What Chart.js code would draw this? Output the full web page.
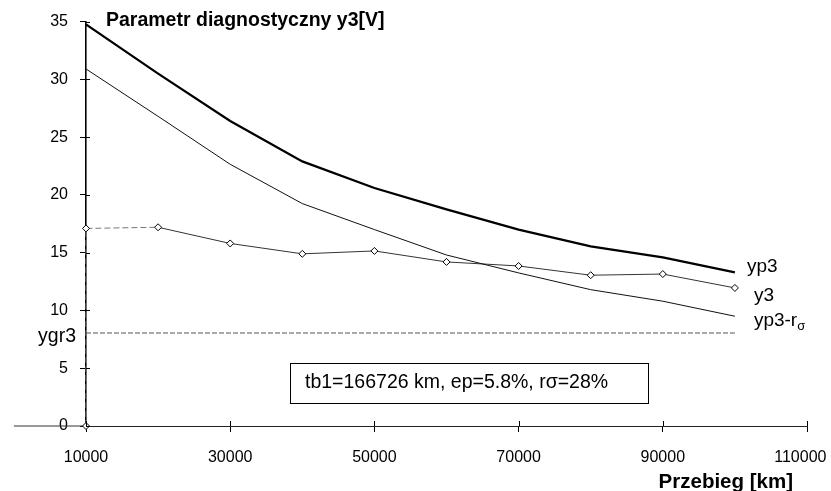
<!DOCTYPE html>
<html>
<head>
<meta charset="utf-8">
<script src="https://cdn.jsdelivr.net/npm/chart.js@4.4.1/dist/chart.umd.min.js"></script>
<style>
  html, body { margin: 0; padding: 0; background: #fff; }
</style>
</head>
<body>
<canvas id="chart" width="831" height="491"></canvas>
<script>
// przebieg [km]
var przebieg = [10000, 20000, 30000, 40000, 50000, 60000, 70000, 80000, 90000, 100000];
// yp3 - thick upper curve
var yp3 = [34.75, 30.5, 26.4, 22.9, 20.6, 18.75, 17.0, 15.55, 14.6, 13.3];
// yp3 - r sigma
var yp3r = [30.9, 26.8, 22.65, 19.25, 17.0, 14.8, 13.25, 11.8, 10.8, 9.5];
// measured y3 (starts at 0,0 and jumps up at 10000)
var y3x = [0, 10000, 10000, 20000, 30000, 40000, 50000, 60000, 70000, 80000, 90000, 100000];
var y3 = [0, 0, 17.1, 17.2, 15.8, 14.9, 15.15, 14.2, 13.85, 13.05, 13.15, 11.95];
// limit ygr3
var ygr3x = [10000, 100000];
var ygr3 = [8.05, 8.05];

var xTicks = [10000, 30000, 50000, 70000, 90000, 110000];
var yTicks = [0, 5, 10, 15, 20, 25, 30, 35];

Chart.defaults.font.family = '"Liberation Sans", Arial, Helvetica, sans-serif';
Chart.defaults.color = '#000';

function pts(xs, ys) {
  var out = [];
  for (var i = 0; i < xs.length; i++) out.push({x: xs[i], y: ys[i]});
  return out;
}

var notes = {
  id: 'notes',
  afterDraw: function(chart) {
    var ctx = chart.ctx;
    var a = chart.chartArea;
    var xs = chart.scales.x, ys = chart.scales.y;
    ctx.save();
    ctx.strokeStyle = '#000';
    ctx.lineWidth = 1;
    // inner halves of the tick marks
    ctx.beginPath();
    yTicks.forEach(function(v) {
      var p = Math.round(ys.getPixelForValue(v)) + 0.5;
      ctx.moveTo(a.left, p); ctx.lineTo(a.left + 4, p);
    });
    xTicks.forEach(function(v) {
      var p = Math.round(xs.getPixelForValue(v)) + 0.5;
      ctx.moveTo(p, a.bottom); ctx.lineTo(p, a.bottom - 5);
    });
    ctx.stroke();

    ctx.fillStyle = '#000';
    ctx.textBaseline = 'middle';
    // title
    ctx.font = 'bold 19.5px "Liberation Sans", Arial, sans-serif';
    ctx.textAlign = 'left';
    ctx.fillText('Parametr diagnostyczny y3[V]', a.left + 20, a.top - 1);
    // axis title
    ctx.font = 'bold 20.5px "Liberation Sans", Arial, sans-serif';
    ctx.textAlign = 'right';
    ctx.fillText('Przebieg [km]', a.right - 14, a.bottom + 56);

    // series labels
    ctx.font = '19px "Liberation Sans", Arial, sans-serif';
    ctx.textAlign = 'left';
    var last = przebieg.length - 1;
    var lx = xs.getPixelForValue(przebieg[last]);
    ctx.fillText('yp3', lx + 12, ys.getPixelForValue(yp3[last]) - 6);
    ctx.fillText('y3', lx + 19, ys.getPixelForValue(y3[y3.length - 1]) + 8);
    var ry = ys.getPixelForValue(yp3r[last]) + 5;
    ctx.fillText('yp3-r', lx + 19, ry);
    var w = ctx.measureText('yp3-r').width;
    ctx.font = '13px "Liberation Sans", Arial, sans-serif';
    ctx.fillText('\u03c3', lx + 19 + w, ry + 5);

    ctx.font = '19.5px "Liberation Sans", Arial, sans-serif';
    ctx.textAlign = 'right';
    ctx.fillText('ygr3', a.left - 10, ys.getPixelForValue(ygr3[0]) + 4);

    // info box
    var bx = a.left + 204, by = a.bottom - 63;
    ctx.strokeRect(bx + 0.5, by + 0.5, 358, 40);
    ctx.textAlign = 'left';
    ctx.font = '19.5px "Liberation Sans", Arial, sans-serif';
    ctx.fillText('tb1=166726 km, ep=5.8%, r\u03c3=28%', bx + 15, by + 20);
    ctx.restore();
  }
};

new Chart(document.getElementById('chart'), {
  type: 'line',
  data: {
    datasets: [
      {
        label: 'yp3',
        data: pts(przebieg, yp3),
        borderColor: '#000',
        borderWidth: 2.2,
        pointRadius: 0,
        tension: 0
      },
      {
        label: 'yp3-r\u03c3',
        data: pts(przebieg, yp3r),
        borderColor: '#111',
        borderWidth: 1,
        pointRadius: 0,
        tension: 0
      },
      {
        label: 'ygr3',
        data: pts(ygr3x, ygr3),
        borderColor: '#555',
        borderWidth: 1,
        borderDash: [5, 2],
        pointRadius: 0
      },
      {
        label: 'y3',
        data: pts(y3x, y3),
        borderColor: '#333',
        borderWidth: 1,
        clip: false,
        pointStyle: 'rectRot',
        pointRadius: 3.5,
        pointBorderWidth: 1,
        pointBorderColor: '#000',
        pointBackgroundColor: '#fff',
        segment: {
          borderDash: function(c) { return (c.p0DataIndex === 1 || c.p0DataIndex === 2) ? [6, 3] : undefined; },
          borderColor: function(c) { return (c.p0DataIndex === 1 || c.p0DataIndex === 2) ? '#777' : undefined; }
        }
      }
    ]
  },
  options: {
    responsive: false,
    animation: false,
    layout: { padding: { left: 0, top: 21, right: 24, bottom: 0 } },
    plugins: {
      legend: { display: false },
      tooltip: { enabled: false }
    },
    scales: {
      x: {
        type: 'linear',
        position: 'bottom',
        min: 10000,
        max: 110000,
        afterBuildTicks: function(s) { s.ticks = xTicks.map(function(v) { return {value: v}; }); },
        afterFit: function(s) {
          s.height = 65;
          s.paddingLeft = 0;
          s.paddingRight = 0;
        },
        ticks: {
          font: { size: 16 },
          padding: 16,
          maxRotation: 0,
          // last label pushed a bit left so it stays on the page
          callback: function(v) { return v === 110000 ? '110000   ' : String(v); }
        },
        grid: {
          drawOnChartArea: false,
          drawTicks: true,
          tickLength: 6,
          color: '#000'
        },
        border: { color: '#222', width: 1 }
      },
      y: {
        position: 'left',
        min: 0,
        max: 35,
        afterBuildTicks: function(s) { s.ticks = yTicks.map(function(v) { return {value: v}; }); },
        afterFit: function(s) { s.width = 86; },
        ticks: {
          font: { size: 16 },
          padding: 12
        },
        grid: {
          drawOnChartArea: false,
          drawTicks: true,
          tickLength: 6,
          color: '#000'
        },
        border: { color: '#000', width: 1.6 }
      }
    }
  },
  plugins: [notes]
});
</script>
</body>
</html>
